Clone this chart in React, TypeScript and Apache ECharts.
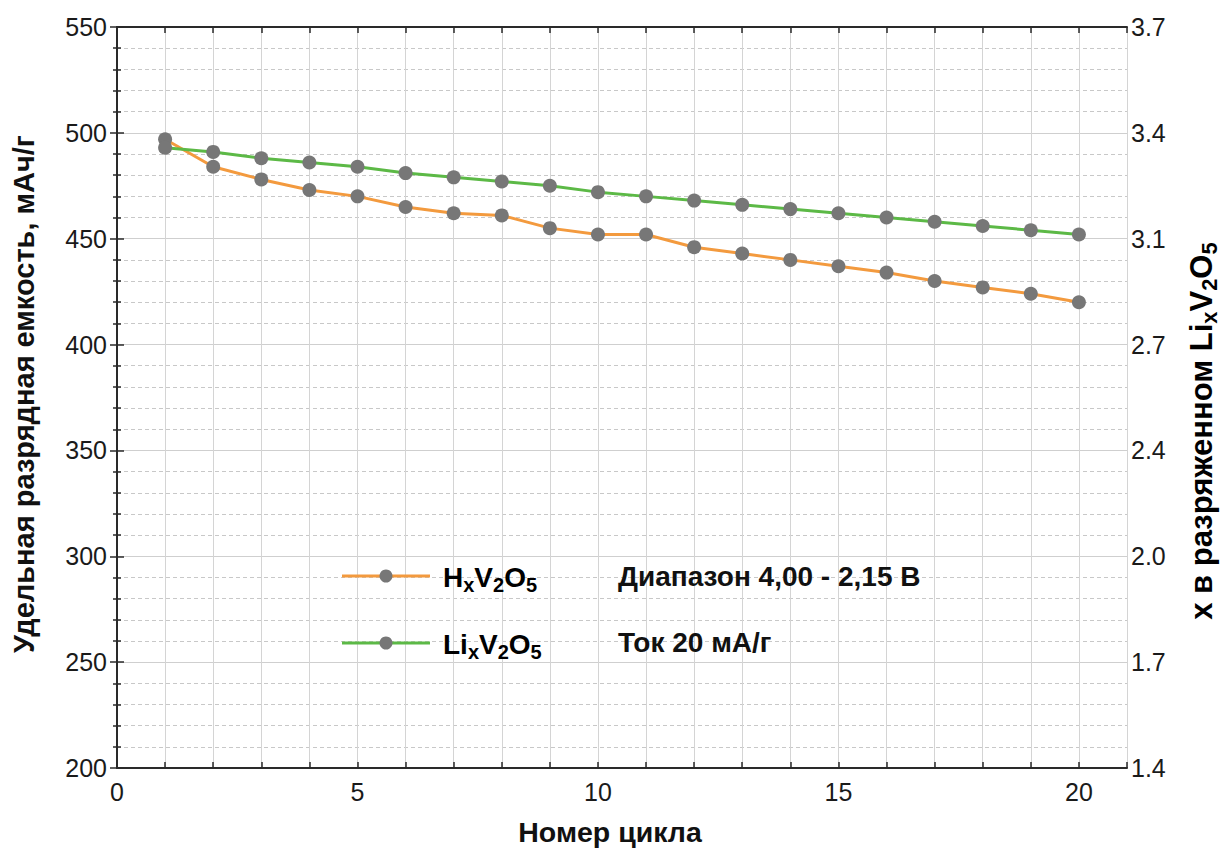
import React, { useEffect, useRef } from "react";
import * as echarts from "echarts";

const cycles = [1, 2, 3, 4, 5, 6, 7, 8, 9, 10, 11, 12, 13, 14, 15, 16, 17, 18, 19, 20];
const hxValues = [497, 484, 478, 473, 470, 465, 462, 461, 455, 452, 452, 446, 443, 440, 437, 434, 430, 427, 424, 420];
const lixValues = [493, 491, 488, 486, 484, 481, 479, 477, 475, 472, 470, 468, 466, 464, 462, 460, 458, 456, 454, 452];
const rightTickLabels = ["1.4", "1.7", "2.0", "2.4", "2.7", "3.1", "3.4", "3.7"];
const legendNotes = ["Диапазон 4,00 - 2,15 В", "Ток 20 мА/г"];

const FONT = "Liberation Sans, Arial, Helvetica, sans-serif";
const ORANGE = "#F39A3E";
const GREEN = "#5CB946";
const MARKER = "#777777";

export default function App() {
  const ref = useRef<HTMLDivElement>(null);
  useEffect(() => {
    const chart = echarts.init(ref.current!, null, { renderer: "svg" });
    const axisLine = { show: true, lineStyle: { color: "#2a2a2a", width: 2 } };
    const subRich = {
      b: { fontSize: 28, fontFamily: FONT, color: "#111", fontWeight: "bold" },
      s: { fontSize: 20, fontFamily: FONT, color: "#111", fontWeight: "bold", padding: [15, 0, 0, 0] },
    };
    const subRichTitle = {
      b: { fontSize: 31, fontFamily: FONT, color: "#111", fontWeight: "bold" },
      s: { fontSize: 22, fontFamily: FONT, color: "#111", fontWeight: "bold", padding: [16, 0, 0, 0] },
    };
    const tickStyle = { color: "#2a2a2a", width: 1.5 };
    const option: any = {
      animation: false,
      backgroundColor: "#fff",
      grid: { left: 117, top: 27, right: 93, bottom: 81, containLabel: false },
      xAxis: [
        {
          type: "value",
          min: 0,
          max: 21,
          interval: 1,
          position: "bottom",
          axisLine,
          axisTick: { show: true, inside: true, length: 6, lineStyle: tickStyle },
          axisLabel: {
            fontSize: 25,
            fontFamily: FONT,
            color: "#1a1a1a",
            margin: 11,
            formatter: (v: number) => (v % 5 === 0 && v <= 20 ? String(v) : ""),
          },
          splitLine: { show: true, lineStyle: { color: "#d4d4d4", width: 1 } },
        },
        {
          type: "value",
          min: 0,
          max: 21,
          interval: 1,
          position: "top",
          axisLine,
          axisTick: { show: true, inside: true, length: 6, lineStyle: tickStyle },
          axisLabel: { show: false },
          splitLine: { show: false },
        },
      ],
      yAxis: [
        {
          type: "value",
          min: 200,
          max: 550,
          interval: 50,
          position: "left",
          axisLine,
          axisTick: { show: true, inside: true, length: 7, lineStyle: tickStyle },
          minorTick: { show: true, splitNumber: 5, length: 4, lineStyle: tickStyle },
          axisLabel: { fontSize: 25, fontFamily: FONT, color: "#1a1a1a", margin: 10 },
          splitLine: { show: true, lineStyle: { color: "#cfcfcf", width: 1 } },
          minorSplitLine: { show: true, lineStyle: { color: "#c8c8c8", width: 1, type: [4, 3] } },
        },
        {
          type: "value",
          min: 200,
          max: 550,
          interval: 50,
          position: "right",
          axisLine,
          axisTick: { show: true, inside: true, length: 7, lineStyle: tickStyle },
          minorTick: { show: true, splitNumber: 5, length: 4, lineStyle: tickStyle },
          axisLabel: {
            fontSize: 25,
            fontFamily: FONT,
            color: "#1a1a1a",
            margin: 4,
            formatter: (v: number) => rightTickLabels[Math.round((v - 200) / 50)] ?? "",
          },
          splitLine: { show: false },
        },
      ],
      series: [
        {
          name: "HxV2O5",
          type: "line",
          data: cycles.map((c, i) => [c, hxValues[i]]),
          lineStyle: { color: ORANGE, width: 3 },
          itemStyle: { color: MARKER },
          symbol: "circle",
          symbolSize: 14,
          z: 3,
        },
        {
          name: "LixV2O5",
          type: "line",
          data: cycles.map((c, i) => [c, lixValues[i]]),
          lineStyle: { color: GREEN, width: 3 },
          itemStyle: { color: MARKER },
          symbol: "circle",
          symbolSize: 14,
          z: 4,
        },
      ],
      graphic: [
        // legend row 1
        { type: "line", shape: { x1: 342, y1: 576, x2: 430, y2: 576 }, style: { stroke: ORANGE, lineWidth: 3 }, z: 10 },
        { type: "circle", shape: { cx: 386, cy: 576, r: 6.5 }, style: { fill: MARKER }, z: 11 },
        {
          type: "text",
          x: 443,
          y: 577,
          z: 11,
          style: { text: "{b|H}{s|x}{b|V}{s|2}{b|O}{s|5}", rich: subRich, verticalAlign: "middle", align: "left" },
        },
        {
          type: "text",
          x: 618,
          y: 576,
          z: 11,
          style: { text: legendNotes[0], fontSize: 28, fontFamily: FONT, fill: "#111", fontWeight: "bold", verticalAlign: "middle", align: "left" },
        },
        // legend row 2
        { type: "line", shape: { x1: 342, y1: 643, x2: 430, y2: 643 }, style: { stroke: GREEN, lineWidth: 3 }, z: 10 },
        { type: "circle", shape: { cx: 386, cy: 643, r: 6.5 }, style: { fill: MARKER }, z: 11 },
        {
          type: "text",
          x: 443,
          y: 644,
          z: 11,
          style: { text: "{b|Li}{s|x}{b|V}{s|2}{b|O}{s|5}", rich: subRich, verticalAlign: "middle", align: "left" },
        },
        {
          type: "text",
          x: 618,
          y: 642,
          z: 11,
          style: { text: legendNotes[1], fontSize: 28, fontFamily: FONT, fill: "#111", fontWeight: "bold", verticalAlign: "middle", align: "left" },
        },
        // axis titles
        {
          type: "text",
          x: 24,
          y: 394,
          rotation: Math.PI / 2,
          style: { text: "Удельная разрядная емкость, мАч/г", fontSize: 29, fontWeight: "bold", fontFamily: FONT, fill: "#111", align: "center", verticalAlign: "middle" },
        },
        {
          type: "text",
          x: 1201,
          y: 431,
          rotation: Math.PI / 2,
          style: { text: "{b|x в разряженном Li}{s|x}{b|V}{s|2}{b|O}{s|5}", rich: subRichTitle, align: "center", verticalAlign: "middle" },
        },
        {
          type: "text",
          x: 610,
          y: 832,
          style: { text: "Номер цикла", fontSize: 28.5, fontWeight: "bold", fontFamily: FONT, fill: "#111", align: "center", verticalAlign: "middle" },
        },
      ],
    };
    chart.setOption(option);
    return () => chart.dispose();
  }, []);
  return <div ref={ref} style={{ position: "fixed", left: 0, top: 0, width: 1220, height: 849 }} />;
}
